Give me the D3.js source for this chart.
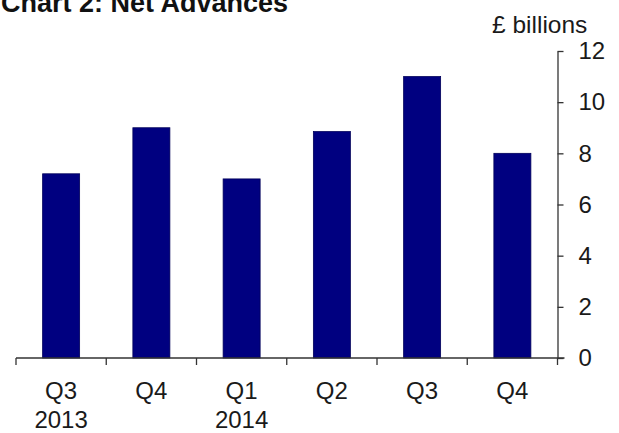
<!DOCTYPE html>
<html><head><meta charset="utf-8">
<script src="https://cdn.jsdelivr.net/npm/d3@7"></script>
<style>
html,body{margin:0;padding:0;background:#fff;}
svg{display:block;}
text{font-family:"Liberation Sans",Arial,sans-serif;fill:#1a1a1a;}
</style></head>
<body>
<script>
const categories = ["Q3", "Q4", "Q1", "Q2", "Q3", "Q4"];
const years = ["2013", "", "2014", "", "", ""];
const values = [7.2, 9.0, 7.0, 8.85, 11.0, 8.0];
const yTicks = [0, 2, 4, 6, 8, 10, 12];
const title = "Chart 2: Net Advances";
const unitLabel = "£ billions";

const W = 619, H = 433;
const svg = d3.select("body").append("svg").attr("width", W).attr("height", H);

const idx = categories.map((d, i) => i);
const x = d3.scaleBand().domain(idx).range([16, 557.5]).paddingInner(0.59).paddingOuter(0.295);
const y = d3.scaleLinear().domain([0, 12]).range([358, 51]);
const step = x.step();

// title (cropped at top, as in the reference)
svg.append("text").attr("x", 1).attr("y", 12).attr("font-size", 27).attr("font-weight", "bold")
  .style("fill", "#111").text(title);

// bars
svg.append("g").selectAll("rect").data(values).join("rect")
  .attr("x", (d, i) => x(i)).attr("width", x.bandwidth())
  .attr("y", d => y(d)).attr("height", d => y(0) - y(d))
  .attr("fill", "#000080").attr("stroke", "#00005a").attr("stroke-width", 0.8);

// x axis line
const axisColor = "#333";
svg.append("line").attr("x1", x.range()[0]).attr("x2", x.range()[1] + 7)
  .attr("y1", y(0)).attr("y2", y(0)).attr("stroke", axisColor).attr("stroke-width", 1.3);
// x ticks at band boundaries
const boundaries = idx.map(i => x(i) - (step - x.bandwidth()) / 2).concat([x.range()[1]]);
svg.append("g").selectAll("line").data(boundaries).join("line")
  .attr("x1", d => d).attr("x2", d => d).attr("y1", y(0)).attr("y2", y(0) + 7)
  .attr("stroke", axisColor).attr("stroke-width", 1.3);
// x labels
const xl = svg.append("g").attr("font-size", 24).attr("text-anchor", "middle");
xl.selectAll("text.q").data(categories).join("text").attr("class", "q")
  .attr("x", (d, i) => x(i) + x.bandwidth() / 2).attr("y", 399).text(d => d);
xl.selectAll("text.yr").data(years).join("text").attr("class", "yr")
  .attr("x", (d, i) => x(i) + x.bandwidth() / 2).attr("y", 428).text(d => d);

// y axis
const yAxis = d3.axisRight(y).tickValues(yTicks).tickSize(6).tickSizeOuter(0).tickPadding(15);
const gy = svg.append("g").attr("transform", `translate(${x.range()[1]},0)`).call(yAxis);
gy.select(".domain").attr("stroke", axisColor).attr("stroke-width", 1.3);
gy.selectAll(".tick line").attr("stroke", axisColor).attr("stroke-width", 1.3);
gy.selectAll(".tick text").attr("font-size", 24).style("font-family", '"Liberation Sans",Arial,sans-serif').attr("fill", "#1a1a1a");
svg.append("text").attr("x", 492).attr("y", 33).attr("font-size", 24.5).text(unitLabel);
</script>
</body></html>
